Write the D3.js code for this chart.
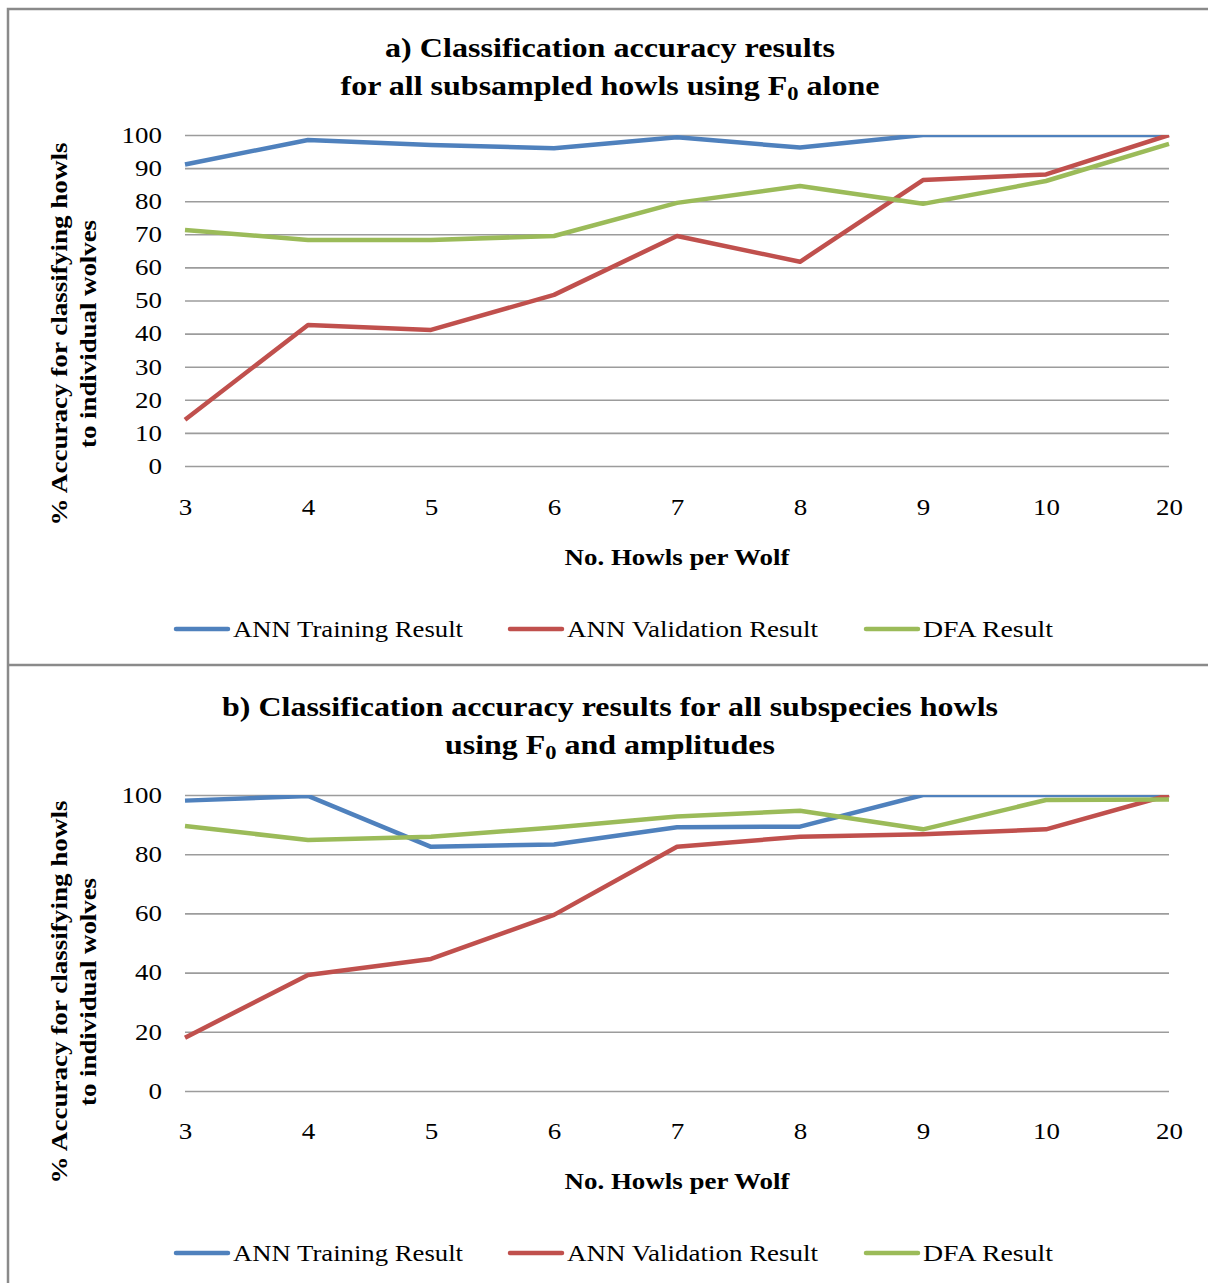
<!DOCTYPE html>
<html>
<head>
<meta charset="utf-8">
<script src="https://cdn.jsdelivr.net/npm/d3@7/dist/d3.min.js"></script>
<style>
  html, body { margin: 0; padding: 0; background: #fff; }
  svg { display: block; }
  text { font-family: "Liberation Serif", "Times New Roman", serif; fill: #000; }
</style>
</head>
<body>
<svg id="chart" width="1208" height="1283"></svg>
<script>
// Number of howls per wolf (x categories)
const howlCounts = ["3", "4", "5", "6", "7", "8", "9", "10", "20"];

// Panel a: F0 alone
const trainingA   = [91.1, 98.5, 97.0, 96.0, 99.3, 96.2, 100, 100, 100];
const validationA = [14.0, 42.6, 41.1, 51.7, 69.5, 61.7, 86.4, 88.1, 100];
const dfaA        = [71.3, 68.3, 68.3, 69.5, 79.5, 84.6, 79.2, 86.1, 97.3];

// Panel b: F0 and amplitudes
const trainingB   = [98.1, 99.7, 82.5, 83.3, 89.1, 89.3, 100, 100, 100];
const validationB = [18.0, 39.2, 44.6, 59.5, 82.5, 85.9, 86.7, 88.4, 100];
const dfaB        = [89.5, 84.8, 85.9, 89.0, 92.7, 94.7, 88.4, 98.3, 98.5];

// Y tick values
const ticksA = [0, 10, 20, 30, 40, 50, 60, 70, 80, 90, 100];
const ticksB = [0, 20, 40, 60, 80, 100];

const seriesNames = ["ANN Training Result", "ANN Validation Result", "DFA Result"];
const seriesColors = ["#4F81BD", "#C0504D", "#9BBB59"];

const svg = d3.select("#chart");
const defs = svg.append("defs");

// The typeface is set a little wider than the stock serif: stretch glyphs horizontally
function stretch(sel, factor) {
  sel.each(function () {
    const w = this.getComputedTextLength();
    d3.select(this).attr("textLength", (w * factor).toFixed(1)).attr("lengthAdjust", "spacingAndGlyphs");
  });
}
function fitWidth(sel, width) {
  sel.attr("textLength", width).attr("lengthAdjust", "spacingAndGlyphs");
}

// Frame around the two panels
svg.append("path")
  .attr("d", "M8,1283 L8,9 L1208,9 M8,665 L1208,665")
  .attr("fill", "none")
  .attr("stroke", "#8a8a8a")
  .attr("stroke-width", 2.5);

function drawPanel(cfg, idx) {
  const g = svg.append("g");
  const x = d3.scalePoint().domain(howlCounts).range([185, 1169]);
  const y = d3.scaleLinear().domain([0, 100]).range([cfg.bottom, cfg.top]);

  // Title with subscript
  cfg.title.forEach((line, i) => {
    const t = g.append("text")
      .attr("x", 610)
      .attr("y", cfg.titleY[i])
      .attr("text-anchor", "middle")
      .attr("font-weight", "bold")
      .attr("font-size", 27);
    line.forEach(part => {
      if (part.sub) {
        t.append("tspan").attr("baseline-shift", "-25%").attr("font-size", 19).text(part.text);
      } else {
        t.append("tspan").text(part.text);
      }
    });
    fitWidth(t, cfg.titleW[i]);
  });

  // Gridlines + y tick labels
  const yAxis = d3.axisLeft(y).tickValues(cfg.ticks).tickSize(-(1169 - 185)).tickPadding(23);
  const ya = g.append("g").attr("transform", "translate(185,0)").call(yAxis);
  ya.select(".domain").remove();
  ya.selectAll(".tick line").attr("stroke", "#9c9c9c").attr("stroke-width", 1.6);
  ya.selectAll(".tick text")
    .attr("font-size", 23)
    .attr("fill", "#000")
    .call(stretch, 1.17);

  // X tick labels
  const xAxis = d3.axisBottom(x).tickSize(0).tickPadding(0);
  const xa = g.append("g").attr("transform", `translate(0,${cfg.bottom})`).call(xAxis);
  xa.select(".domain").remove();
  xa.selectAll(".tick text")
    .attr("font-size", 23)
    .attr("fill", "#000")
    .attr("dy", null)
    .attr("y", cfg.xTickY - cfg.bottom)
    .call(stretch, 1.17);

  // Axis titles
  g.append("text")
    .attr("x", 677).attr("y", cfg.xTitleY)
    .attr("text-anchor", "middle")
    .attr("font-weight", "bold").attr("font-size", 23)
    .text("No. Howls per Wolf")
    .call(fitWidth, 225);

  const yt = g.append("g").attr("transform", `translate(0,${cfg.yTitleC}) rotate(-90)`);
  yt.append("text").attr("x", 0).attr("y", 67)
    .attr("text-anchor", "middle")
    .attr("font-weight", "bold").attr("font-size", 23)
    .text("% Accuracy for classifying howls")
    .call(fitWidth, 383);
  yt.append("text").attr("x", 0).attr("y", 96)
    .attr("text-anchor", "middle")
    .attr("font-weight", "bold").attr("font-size", 23)
    .text("to individual wolves")
    .call(fitWidth, 228);

  // Series lines, clipped to the plot area
  const clipId = "plot-clip-" + idx;
  defs.append("clipPath").attr("id", clipId)
    .append("rect")
    .attr("x", 175).attr("y", cfg.top)
    .attr("width", 1005).attr("height", cfg.bottom - cfg.top + 10);
  const lines = g.append("g").attr("clip-path", `url(#${clipId})`);
  const line = d3.line().x((d, i) => x(howlCounts[i])).y(d => y(d));
  cfg.series.forEach((vals, k) => {
    lines.append("path")
      .datum(vals)
      .attr("fill", "none")
      .attr("stroke", seriesColors[k])
      .attr("stroke-width", 4.5)
      .attr("stroke-linejoin", "round")
      .attr("d", line);
  });

  // Legend
  const legX = [176, 510, 866];
  const legW = [230, 251, 130];
  seriesNames.forEach((name, k) => {
    g.append("line")
      .attr("x1", legX[k]).attr("x2", legX[k] + 52)
      .attr("y1", cfg.legendY).attr("y2", cfg.legendY)
      .attr("stroke", seriesColors[k]).attr("stroke-width", 4.5)
      .attr("stroke-linecap", "round");
    g.append("text")
      .attr("x", legX[k] + 57).attr("y", cfg.legendY + 8)
      .attr("font-size", 23)
      .text(name)
      .call(fitWidth, legW[k]);
  });
}

drawPanel({
  top: 135, bottom: 466,
  ticks: ticksA,
  series: [trainingA, validationA, dfaA],
  title: [
    [{ text: "a) Classification accuracy results" }],
    [{ text: "for all subsampled howls using F" }, { text: "0", sub: true }, { text: " alone" }]
  ],
  titleY: [57, 95],
  titleW: [450, 539],
  xTickY: 515,
  xTitleY: 565,
  yTitleC: 334,
  legendY: 629
}, 0);

drawPanel({
  top: 795, bottom: 1091,
  ticks: ticksB,
  series: [trainingB, validationB, dfaB],
  title: [
    [{ text: "b) Classification accuracy results for all subspecies howls" }],
    [{ text: "using F" }, { text: "0", sub: true }, { text: " and amplitudes" }]
  ],
  titleY: [716, 754],
  titleW: [776, 330],
  xTickY: 1139,
  xTitleY: 1189,
  yTitleC: 992,
  legendY: 1253
}, 1);
</script>
</body>
</html>
